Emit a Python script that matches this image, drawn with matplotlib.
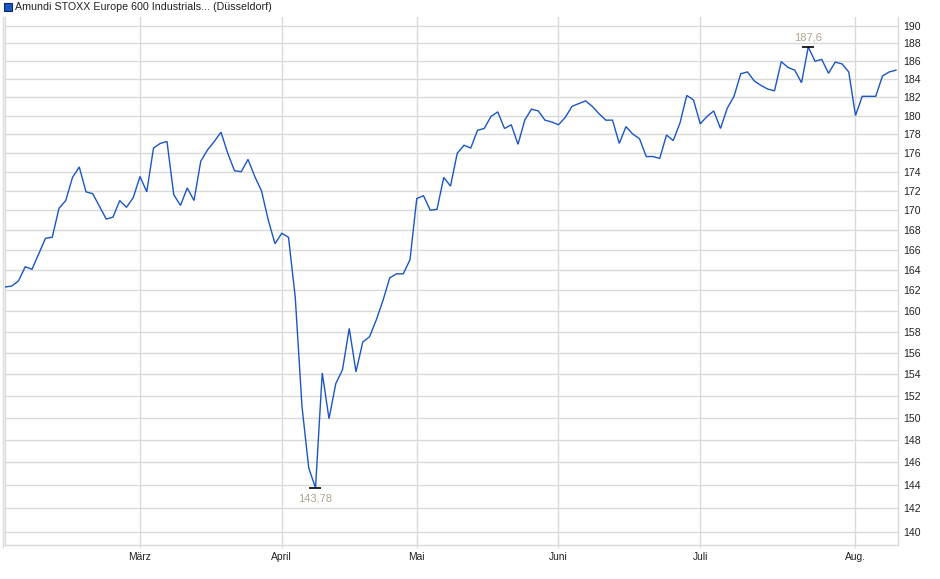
import matplotlib
matplotlib.use("Agg")
import matplotlib.pyplot as plt
from matplotlib.ticker import FixedLocator, NullLocator, FixedFormatter
from matplotlib.lines import Line2D
from matplotlib.patches import Rectangle

title = "Amundi STOXX Europe 600 Industrials... (Düsseldorf)"

prices = [
    162.3, 162.4, 162.9, 164.3, 164.05, 165.6, 167.15, 167.25, 170.2, 171.0,
    173.4, 174.5, 171.9, 171.7, 170.4, 169.1, 169.3, 171.0, 170.3, 171.3,
    173.5, 171.9, 176.5, 177.0, 177.2, 171.6, 170.5, 172.3, 171.0, 175.1,
    176.3, 177.2, 178.2, 175.95, 174.1, 174.0, 175.3, 173.5, 172.0, 169.0,
    166.6, 167.65, 167.25, 161.3, 151.0, 145.5, 143.78, 154.1, 149.9, 153.1,
    154.4, 158.3, 154.2, 157.0, 157.5, 159.1, 161.0, 163.2, 163.6, 163.6,
    165.0, 171.2, 171.5, 170.0, 170.1, 173.4, 172.5, 175.95, 176.8, 176.5,
    178.4, 178.6, 179.9, 180.4, 178.6, 179.0, 176.9, 179.5, 180.7, 180.5,
    179.5, 179.3, 179.0, 179.8, 181.0, 181.3, 181.6, 181.0, 180.2, 179.5,
    179.5, 177.0, 178.8, 178.0, 177.5, 175.6, 175.6, 175.4, 177.9, 177.3,
    179.2, 182.2, 181.7, 179.1, 179.9, 180.5, 178.6, 180.8, 182.1, 184.6,
    184.8, 183.8, 183.3, 182.9, 182.7, 185.95, 185.3, 185.0, 183.6, 187.6,
    186.0, 186.2, 184.65, 185.9, 185.7, 184.8, 180.0, 182.1, 182.1, 182.1,
    184.35, 184.8, 185.0,
]
month_labels = ["März", "April", "Mai", "Juni", "Juli", "Aug."]
month_index = [20, 41, 61, 82, 103, 126]
y_ticks = list(range(140, 191, 2))
min_label = "143,78"
max_label = "187,6"

W, H = 940, 579
fig = plt.figure(figsize=(W / 100, H / 100), dpi=100)
fig.patch.set_facecolor("white")
L, R, T, B = 5, 898, 17, 545
ax = fig.add_axes([L / W, 1 - B / H, (R - L) / W, (B - T) / H])

font = "Liberation Sans"
grid_c = "#dadada"
line_c = "#1a56c4"
ann_c = "#b0a48f"

x = list(range(len(prices)))
ax.plot(x, prices, color=line_c, lw=1.0, solid_joinstyle="miter", zorder=3)

ax.set_yscale("log")
ax.set_ylim(138.9, 191.03)
ax.set_xlim(0, (R - L) / 6.75)

ax.yaxis.set_major_locator(FixedLocator(y_ticks))
ax.yaxis.set_major_formatter(FixedFormatter([str(v) for v in y_ticks]))
ax.yaxis.set_minor_locator(NullLocator())
ax.yaxis.tick_right()
ax.tick_params(axis="y", which="major", length=0, pad=4, labelsize=7.6,
               labelcolor="#222222", labelfontfamily=font)

ax.xaxis.set_major_locator(FixedLocator(month_index))
ax.xaxis.set_major_formatter(FixedFormatter(month_labels))
ax.xaxis.set_minor_locator(NullLocator())
ax.tick_params(axis="x", which="major", length=2.5, width=0.8, color=grid_c,
               pad=2.5, labelsize=7.4, labelcolor="#222222", labelfontfamily=font)

ax.grid(True, which="major", color=grid_c, lw=1.0, zorder=0)
ax.set_axisbelow(True)
ax.spines["top"].set_visible(False)
for s in ["left", "right", "bottom"]:
    ax.spines[s].set_color(grid_c)
    ax.spines[s].set_linewidth(1.0)

# extra outer left line
fig.add_artist(Line2D([2.7 / W, 2.7 / W], [1 - 547 / H, 1 - T / H],
                      color=grid_c, lw=1.0, transform=fig.transFigure))

# min / max markers
imin = prices.index(min(prices))
imax = prices.index(max(prices))
ax.plot([imin], [prices[imin]], marker="_", ms=9, mew=1.2, color="black", zorder=4)
ax.plot([imax], [prices[imax]], marker="_", ms=9, mew=1.2, color="black", zorder=4)
ax.annotate(min_label, (imin, prices[imin]), xytext=(0, -4), textcoords="offset points",
            ha="center", va="top", fontsize=8, color=ann_c, family=font)
ax.annotate(max_label, (imax, prices[imax]), xytext=(0, 3), textcoords="offset points",
            ha="center", va="bottom", fontsize=8, color=ann_c, family=font)

# legend / title
fig.add_artist(Rectangle((3.5 / W, 1 - 11 / H), 8 / W, 8 / H, transform=fig.transFigure,
                         facecolor=line_c, edgecolor="#0d2a66", lw=0.8))
fig.text(15 / W, 1 - 7 / H, title, ha="left", va="center", fontsize=7.7,
         color="#222222", family=font)

fig.savefig("out.png", dpi=100)
